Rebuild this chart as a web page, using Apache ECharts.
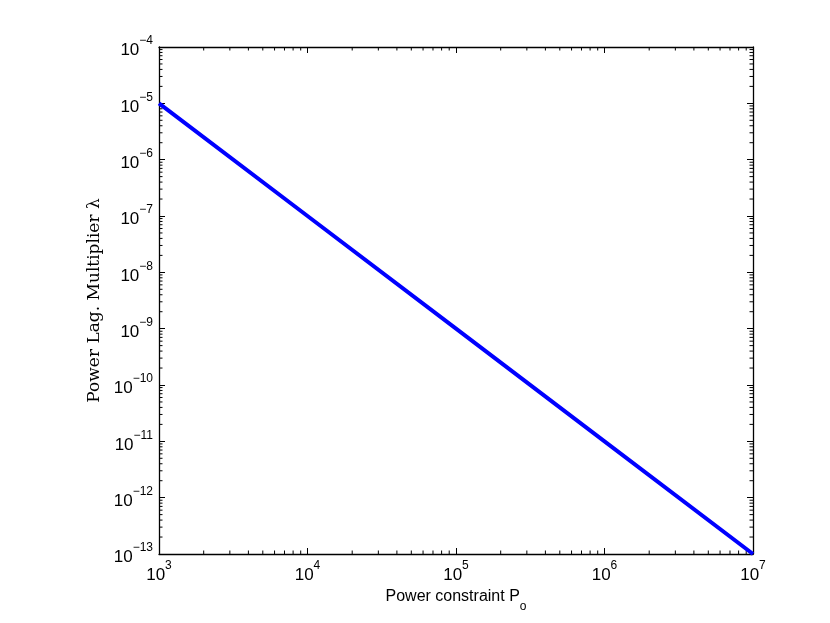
<!DOCTYPE html>
<html lang="en">
<head>
    <meta charset="UTF-8">
    <title>Power Lag. Multiplier</title>
    <script type="text/javascript" src="https://cdn.jsdelivr.net/npm/echarts@6/dist/echarts.min.js"></script>
    <style>
        html, body { margin: 0; padding: 0; background: #fff; }
        #chart { width: 830px; height: 623px; }
    </style>
</head>
<body>
<div id="chart"></div>
<script>
    // data
    var powerX = [1e3, 1e4, 1e5, 1e6, 1e7];
    var lambdaY = [1e-5, 1e-7, 1e-9, 1e-11, 1e-13];
    var xRange = [1e3, 1e7];
    var yRange = [1e-13, 1e-4];

    // minor tick positions (2..9 x 10^k)
    function minorTicks(lo, hi) {
        var out = [];
        for (var e = Math.round(Math.log10(lo)); e < Math.round(Math.log10(hi)); e++) {
            for (var m = 2; m <= 9; m++) out.push(m * Math.pow(10, e));
        }
        return out;
    }
    var xMinor = minorTicks(xRange[0], xRange[1]);
    var yMinor = minorTicks(yRange[0], yRange[1]);

    var myChart = echarts.init(document.getElementById('chart'));

    function powLabel(v) {
        var e = Math.round(Math.log10(v));
        return '{b|10}{s|' + String(e).replace('-', '\u2212') + '}';
    }
    var labelRich = {
        b: { fontSize: 17, fontFamily: 'Liberation Sans', color: '#000', lineHeight: 24, verticalAlign: 'bottom' },
        s: { fontSize: 12, fontFamily: 'Liberation Sans', color: '#000', lineHeight: 12, verticalAlign: 'top' }
    };
    var lineStyleAx = { color: '#000', width: 1.3 };

    var minorLen = 3.5;
    function xMinorItem(params, api) {
        var x = api.coord([api.value(0), yRange[0]])[0];
        var yb = api.coord([xRange[0], yRange[0]])[1];
        var yt = api.coord([xRange[0], yRange[1]])[1];
        return {
            type: 'group',
            children: [
                { type: 'line', shape: { x1: x, y1: yb, x2: x, y2: yb - minorLen }, style: { stroke: '#000', lineWidth: 1 } },
                { type: 'line', shape: { x1: x, y1: yt, x2: x, y2: yt + minorLen }, style: { stroke: '#000', lineWidth: 1 } }
            ]
        };
    }
    function yMinorItem(params, api) {
        var y = api.coord([xRange[0], api.value(0)])[1];
        var xl = api.coord([xRange[0], yRange[0]])[0];
        var xr = api.coord([xRange[1], yRange[0]])[0];
        return {
            type: 'group',
            children: [
                { type: 'line', shape: { x1: xl, y1: y, x2: xl + minorLen, y2: y }, style: { stroke: '#000', lineWidth: 1 } },
                { type: 'line', shape: { x1: xr, y1: y, x2: xr - minorLen, y2: y }, style: { stroke: '#000', lineWidth: 1 } }
            ]
        };
    }

    var option = {
        backgroundColor: '#fff',
        animation: false,
        grid: { left: 159, right: 77, top: 47, bottom: 69 },
        xAxis: [{
            type: 'log',
            logBase: 10,
            min: xRange[0],
            max: xRange[1],
            interval: 1,
            position: 'bottom',
            name: '{a|Power constraint P}{o|o}',
            nameLocation: 'middle',
            nameGap: 32,
            nameTextStyle: {
                rich: {
                    a: { fontSize: 16, fontFamily: 'Liberation Sans', color: '#000', lineHeight: 24, verticalAlign: 'top' },
                    o: { fontSize: 12, fontFamily: 'Liberation Sans', color: '#000', lineHeight: 12, verticalAlign: 'bottom' }
                }
            },
            axisLine: { show: true, onZero: false, lineStyle: lineStyleAx },
            axisTick: { show: true, inside: true, length: 6, lineStyle: { color: '#000' } },
            axisLabel: { margin: 6, formatter: powLabel, rich: labelRich },
            splitLine: { show: false }
        }, {
            type: 'log',
            logBase: 10,
            min: xRange[0],
            max: xRange[1],
            interval: 1,
            position: 'top',
            axisLine: { show: true, onZero: false, lineStyle: lineStyleAx },
            axisTick: { show: true, inside: true, length: 6, lineStyle: { color: '#000' } },
            axisLabel: { show: false },
            splitLine: { show: false }
        }],
        yAxis: [{
            type: 'log',
            logBase: 10,
            min: yRange[0],
            max: yRange[1],
            interval: 1,
            position: 'left',
            name: 'Power Lag. Multiplier \u03bb',
            nameLocation: 'middle',
            nameGap: 54,
            nameTextStyle: { fontSize: 17, fontFamily: 'DejaVu Serif', color: '#000' },
            axisLine: { show: true, onZero: false, lineStyle: lineStyleAx },
            axisTick: { show: true, inside: true, length: 6, lineStyle: { color: '#000' } },
            axisLabel: { margin: 6, formatter: powLabel, rich: labelRich },
            splitLine: { show: false }
        }, {
            type: 'log',
            logBase: 10,
            min: yRange[0],
            max: yRange[1],
            interval: 1,
            position: 'right',
            axisLine: { show: true, onZero: false, lineStyle: lineStyleAx },
            axisTick: { show: true, inside: true, length: 6, lineStyle: { color: '#000' } },
            axisLabel: { show: false },
            splitLine: { show: false }
        }],
        series: [
            {
                type: 'custom',
                xAxisIndex: 0,
                yAxisIndex: 0,
                renderItem: xMinorItem,
                data: xMinor.map(function (v) { return [v, yRange[0]]; }),
                silent: true,
                clip: false,
                z: 5
            },
            {
                type: 'custom',
                xAxisIndex: 0,
                yAxisIndex: 0,
                renderItem: yMinorItem,
                data: yMinor.map(function (v) { return [v, xRange[0]]; }),
                encode: { x: 1, y: 0 },
                silent: true,
                clip: false,
                z: 5
            },
            {
                type: 'line',
                xAxisIndex: 0,
                yAxisIndex: 0,
                data: powerX.map(function (x, i) { return [x, lambdaY[i]]; }),
                showSymbol: false,
                lineStyle: { color: '#0000ff', width: 4 },
                z: 10
            }
        ]
    };
    myChart.setOption(option);
</script>
</body>
</html>
